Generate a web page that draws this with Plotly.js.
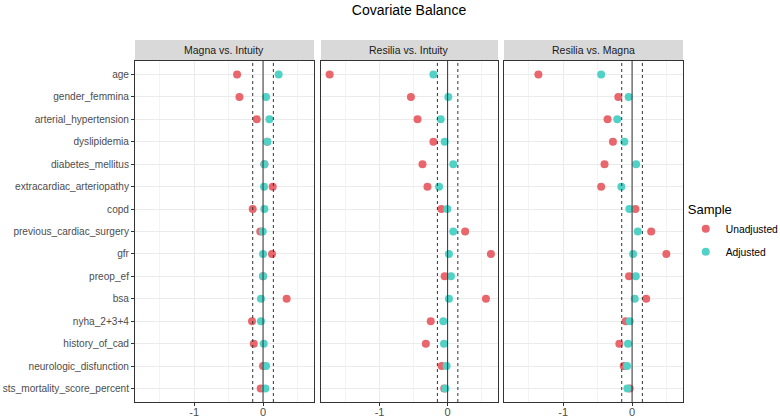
<!DOCTYPE html>
<html>
<head>
<meta charset="utf-8">
<script src="https://cdn.plot.ly/plotly-3.0.1.min.js"></script>
<style>html,body{margin:0;padding:0;background:#fff;}#chart{width:780px;height:419px;}</style>
</head>
<body>
<div id="chart"></div>
<script>
const covariates = ["age","gender_femmina","arterial_hypertension","dyslipidemia","diabetes_mellitus",
  "extracardiac_arteriopathy","copd","previous_cardiac_surgery","gfr","preop_ef","bsa",
  "nyha_2+3+4","history_of_cad","neurologic_disfunction","sts_mortality_score_percent"];
const panels = ["Magna vs. Intuity","Resilia vs. Intuity","Resilia vs. Magna"];
const xTickVals = [-1, 0];
const xTickText = ["-1", "0"];
const threshold = 0.15;

const unadjMagnaIntuity   = [-0.377,-0.343,-0.092,0.06,0.02,0.14,-0.15,-0.04,0.13,0.0,0.343,-0.16,-0.135,0.0,-0.034];
const adjMagnaIntuity     = [0.227,0.043,0.092,0.063,0.019,0.014,0.019,-0.005,0.0,0.0,-0.03,-0.03,0.01,0.043,0.034];
const unadjResiliaIntuity = [-1.733,-0.539,-0.442,-0.209,-0.369,-0.296,-0.092,0.257,0.636,-0.044,0.563,-0.248,-0.32,-0.087,-0.05];
const adjResiliaIntuity   = [-0.209,0.01,-0.102,-0.044,0.083,-0.126,-0.005,0.083,0.019,0.049,0.019,-0.063,-0.053,-0.015,-0.034];
const unadjResiliaMagna   = [-1.361,-0.2,-0.356,-0.278,-0.4,-0.449,0.049,0.278,0.498,-0.044,0.205,-0.093,-0.185,-0.122,-0.034];
const adjResiliaMagna     = [-0.449,-0.049,-0.215,-0.112,0.059,-0.156,-0.039,0.083,0.015,0.054,0.039,-0.034,-0.059,-0.073,-0.068];

const unadj = [unadjMagnaIntuity, unadjResiliaIntuity, unadjResiliaMagna];
const adj = [adjMagnaIntuity, adjResiliaIntuity, adjResiliaMagna];

const RED = "#E8666C", TEAL = "#52D1C7";
const FONT = "Liberation Sans, Arial, sans-serif";
const axSuffix = ["", "2", "3"];
const traces = [];
for (let i = 0; i < 3; i++) {
  traces.push({type:"scatter", mode:"markers", name:"Unadjusted", legendgroup:"u", showlegend:i===0,
    x: unadj[i], y: covariates, xaxis:"x"+axSuffix[i], yaxis:"y"+axSuffix[i],
    marker:{color:RED, size:8}, hoverinfo:"x+y"});
}
for (let i = 0; i < 3; i++) {
  traces.push({type:"scatter", mode:"markers", name:"Adjusted", legendgroup:"a", showlegend:i===0,
    x: adj[i], y: covariates, xaxis:"x"+axSuffix[i], yaxis:"y"+axSuffix[i],
    marker:{color:TEAL, size:8}, hoverinfo:"x+y"});
}

const domains = [[0, 0.3266], [0.3394, 0.6624], [0.6734, 1]];
const layout = {
  width: 780, height: 419,
  margin: {l:135, r:97, t:61, b:17, autoexpand:false},
  paper_bgcolor:"#fff", plot_bgcolor:"#fff",
  font: {family: FONT, color:"#4d4d4d", size:10},
  title: {text:"Covariate Balance", font:{family:FONT, size:14, color:"#000"},
    x:0.5, xref:"paper", xanchor:"center", y:0.976, yref:"container", yanchor:"middle"},
  showlegend: true,
  legend: {x:1.005, xanchor:"left", y:0.6, yanchor:"top", bgcolor:"rgba(0,0,0,0)",
    title:{text:"Sample", font:{size:13, color:"#000", family:FONT}},
    font:{size:10.3, color:"#000", family:FONT}, itemsizing:"trace", itemwidth:30, tracegroupgap:4},
  shapes: [], annotations: []
};
for (let i = 0; i < 3; i++) {
  const s = axSuffix[i];
  layout["xaxis"+s] = {domain: domains[i], range:[-1.86, 0.74], anchor:"y"+s,
    tickmode:"array", tickvals:xTickVals, ticktext:xTickText, showgrid:true, gridcolor:"#ebebeb", gridwidth:1,
    minor:{tickmode:"linear", dtick:0.5, tick0:0, showgrid:true, gridcolor:"#f0f0f0", gridwidth:0.8, ticklen:0},
    zeroline:false, showline:true, mirror:true, linecolor:"#333", linewidth:1,
    ticks:"outside", ticklen:3, tickcolor:"#333", ticklabelstandoff:-3,
    tickfont:{size:11, color:"#4d4d4d"}, fixedrange:true};
  layout["yaxis"+s] = {type:"category", categoryorder:"array", categoryarray:covariates,
    range:[14.6, -0.6], anchor:"x"+s, showgrid:true, gridcolor:"#ebebeb", gridwidth:1,
    zeroline:false, showline:true, mirror:true, linecolor:"#333", linewidth:1,
    ticks: i===0 ? "outside" : "", ticklen:3, tickcolor:"#333",
    showticklabels: i===0, tickfont:{size:10.1, color:"#4d4d4d"}, fixedrange:true};
  if (i>0) layout["yaxis"+s].matches = "y";
  layout.shapes.push({type:"line", xref:"x"+s, yref:"y"+s+" domain", x0:0, x1:0, y0:0, y1:1,
    line:{color:"#333", width:1}});
  [-threshold, threshold].forEach(t => layout.shapes.push({type:"line", xref:"x"+s, yref:"y"+s+" domain",
    x0:t, x1:t, y0:0, y1:1, line:{color:"#333", width:1, dash:"3px,3px"}}));
  layout.shapes.push({type:"rect", xref:"x"+s+" domain", yref:"paper", x0:0, x1:1, y0:1.0, y1:1.0616,
    fillcolor:"#d9d9d9", line:{width:0}, layer:"below"});
  layout.annotations.push({text: panels[i], xref:"x"+s+" domain", yref:"paper", x:0.5, y:1.0308,
    xanchor:"center", yanchor:"middle", showarrow:false, font:{size:10.5, color:"#1a1a1a", family:FONT}});
}
Plotly.newPlot("chart", traces, layout, {displayModeBar:false, staticPlot:true});
</script>
</body>
</html>
